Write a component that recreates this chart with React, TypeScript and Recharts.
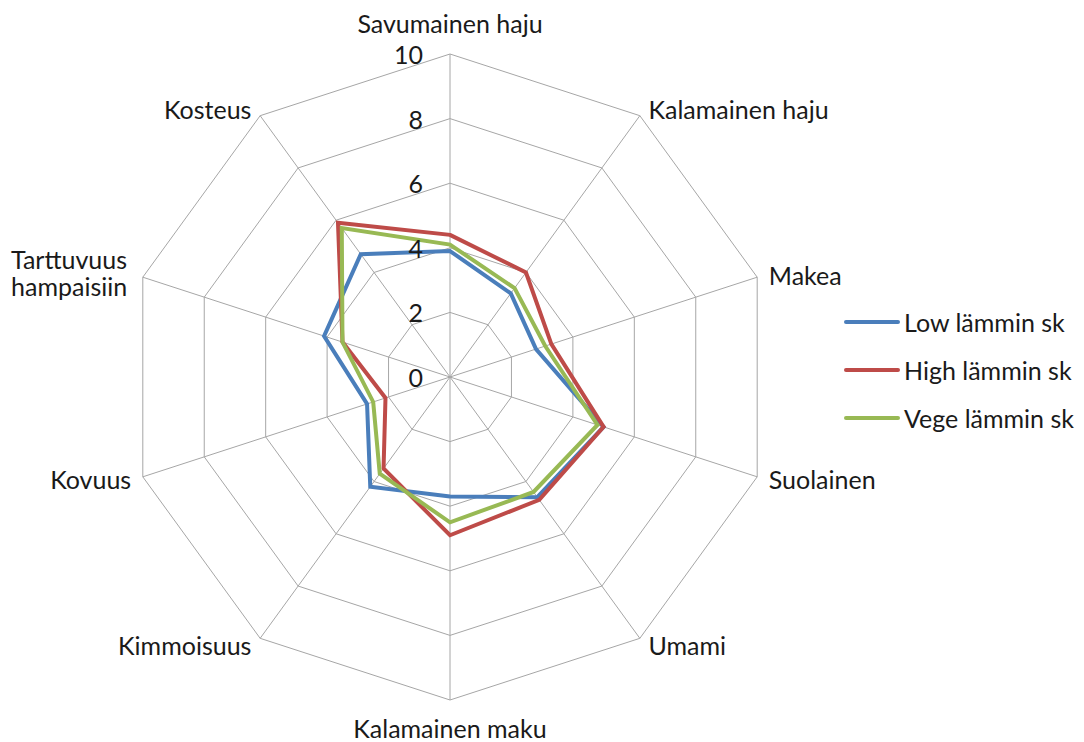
import { Legend, PolarAngleAxis, PolarGrid, PolarRadiusAxis, Radar, RadarChart } from "recharts";

const CATEGORIES = [
  "Savumainen haju",
  "Kalamainen haju",
  "Makea",
  "Suolainen",
  "Umami",
  "Kalamainen maku",
  "Kimmoisuus",
  "Kovuus",
  "Tarttuvuus hampaisiin",
  "Kosteus",
];

const LOW = [3.9, 3.2, 2.8, 5.0, 4.6, 3.7, 4.2, 2.7, 4.1, 4.7];
const HIGH = [4.4, 4.0, 3.3, 5.0, 4.7, 4.9, 3.5, 2.1, 3.5, 5.9];
const VEGE = [4.1, 3.4, 3.1, 4.8, 4.4, 4.5, 3.7, 2.5, 3.5, 5.7];

const RADIUS_TICKS = [0, 2, 4, 6, 8, 10];

const SERIES = [
  { key: "low", name: "Low lämmin sk", color: "#4a7ebb" },
  { key: "high", name: "High lämmin sk", color: "#be4b48" },
  { key: "vege", name: "Vege lämmin sk", color: "#98b954" },
];

const FONT = "Lato, 'Noto Sans', sans-serif";
const FONT_SIZE = 25;
const TEXT_COLOR = "#1a1a1a";
const GRID = "#a6a6a6";

const data = CATEGORIES.map((category, i) => ({
  category,
  low: LOW[i],
  high: HIGH[i],
  vege: VEGE[i],
}));

function AngleTick(props: any) {
  const { x, y, payload, textAnchor, cy } = props;
  const label: string = payload.value;
  let dx = 0;
  let dy = 0;
  if (textAnchor === "middle") dy = y < cy ? -23 : 20;
  else dx = textAnchor === "start" ? 4 : -4;

  // Excel wraps this long label onto two left-aligned lines
  if (label === "Tarttuvuus hampaisiin") {
    return (
      <text x={11} y={y} fontFamily={FONT} fontSize={FONT_SIZE} fill={TEXT_COLOR} textAnchor="start">
        <tspan x={11} dy={-16} dominantBaseline="central">Tarttuvuus</tspan>
        <tspan x={11} dy={27} dominantBaseline="central">hampaisiin</tspan>
      </text>
    );
  }
  return (
    <text
      x={x + dx}
      y={y + dy}
      fontFamily={FONT}
      fontSize={FONT_SIZE}
      fill={TEXT_COLOR}
      textAnchor={textAnchor}
      dominantBaseline="central"
    >
      {label}
    </text>
  );
}

function RadiusTick(props: any) {
  const { x, y, payload } = props;
  return (
    <text x={x - 27} y={y} fontFamily={FONT} fontSize={FONT_SIZE} fill={TEXT_COLOR} textAnchor="end" dominantBaseline="central">
      {payload.value}
    </text>
  );
}

function LegendContent() {
  return (
    <div style={{ fontFamily: FONT, fontSize: FONT_SIZE, color: TEXT_COLOR }}>
      {SERIES.map((s) => (
        <div key={s.key} style={{ display: "flex", alignItems: "center", height: 48 }}>
          <div style={{ width: 56, height: 4, borderRadius: 2, background: s.color, marginRight: 4 }} />
          <span>{s.name}</span>
        </div>
      ))}
    </div>
  );
}

export default function App() {
  return (
    <div style={{ position: "absolute", left: 0, top: 0, width: 1084, height: 742, background: "#fff" }}>
      <RadarChart
        width={1084}
        height={742}
        data={data}
        cx={450}
        cy={377}
        outerRadius={323}
        margin={{ top: 0, right: 0, bottom: 0, left: 0 }}
      >
        <PolarGrid gridType="polygon" stroke={GRID} strokeWidth={1} />
        <PolarAngleAxis dataKey="category" tick={AngleTick} axisLine={false} tickLine={false} />
        <PolarRadiusAxis
          angle={90}
          domain={[0, 10]}
          ticks={RADIUS_TICKS}
          tickCount={6}
          axisLine={false}
          tickLine={false}
          tick={RadiusTick}
        />
        {SERIES.map((s) => (
          <Radar
            key={s.key}
            dataKey={s.key}
            name={s.name}
            stroke={s.color}
            strokeWidth={4}
            fill="none"
            fillOpacity={0}
            dot={false}
            isAnimationActive={false}
          />
        ))}
        <Legend
          layout="vertical"
          content={LegendContent}
          wrapperStyle={{ left: 844, top: 298, width: 240 }}
        />
      </RadarChart>
    </div>
  );
}
